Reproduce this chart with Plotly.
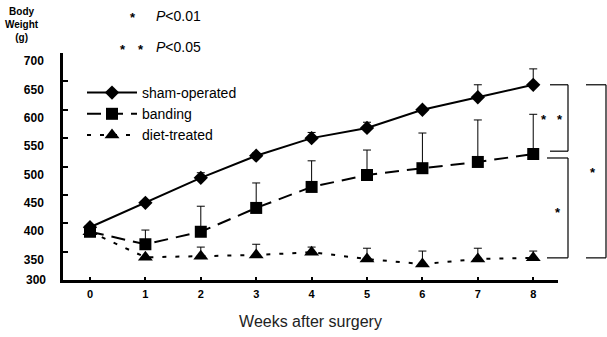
import plotly.graph_objects as go

weeks = [0, 1, 2, 3, 4, 5, 6, 7, 8]
sham = [393, 436, 480, 519, 550, 568, 600, 622, 644]
sham_err = [4, 4, 9, 5, 10, 10, 4, 22, 28]
banding = [385, 363, 385, 427, 464, 485, 497, 508, 522]
banding_err = [0, 25, 45, 44, 46, 44, 62, 74, 70]
diet = [385, 340, 342, 344, 349, 337, 328, 337, 339]
diet_err = [0, 0, 16, 19, 9, 19, 23, 19, 12]
y_ticks = [300, 350, 400, 450, 500, 550, 600, 650, 700]
series_names = ["sham-operated", "banding", "diet-treated"]

FONT = "Arial, Liberation Sans, sans-serif"

def eb(vals):
    return dict(type="data", symmetric=False, array=vals, arrayminus=[0] * len(vals),
                color="black", thickness=1, width=4)

fig = go.Figure()
fig.add_trace(go.Scatter(x=weeks, y=sham, name=series_names[0], mode="lines+markers",
                         line=dict(color="black", width=2),
                         marker=dict(symbol="diamond", size=11, color="black"),
                         error_y=eb(sham_err)))
fig.add_trace(go.Scatter(x=weeks, y=banding, name=series_names[1], mode="lines+markers",
                         line=dict(color="black", width=2, dash="14px,8px"),
                         marker=dict(symbol="square", size=12, color="black"),
                         error_y=eb(banding_err)))
fig.add_trace(go.Scatter(x=weeks, y=diet, name=series_names[2], mode="lines+markers",
                         line=dict(color="black", width=2, dash="4px,9px"),
                         marker=dict(symbol="triangle-up", size=13, color="black"),
                         error_y=eb(diet_err)))

L, R, T, B = 63, 49, 53, 57
W, H = 607, 337
pw, ph = W - L - R, H - T - B

def px(x):
    return (x - L) / pw

def py(y):
    return (H - B - y) / ph

def bracket(x0, x1, ytop, ybot):
    for (xa, ya, xb, yb) in [(x0, ytop, x1, ytop), (x1, ytop, x1, ybot), (x1, ybot, x0, ybot)]:
        fig.add_shape(type="line", xref="paper", yref="y", x0=xa, x1=xb, y0=ya, y1=yb,
                      line=dict(color="black", width=1.2))

bracket(px(550), px(568), sham[-1], banding[-1] + 5)
bracket(px(547), px(568), banding[-1] - 7, diet[-1])
bracket(px(586), px(606), sham[-1], diet[-1])

def star(xpix, ypix):
    fig.add_annotation(x=px(xpix), y=py(ypix), xref="paper", yref="paper", text="<b>*</b>",
                       xanchor="center", yanchor="middle", showarrow=False,
                       font=dict(family=FONT, size=13, color="black"))

def label(xpix, ypix, text):
    fig.add_annotation(x=px(xpix), y=py(ypix), xref="paper", yref="paper", text=text,
                       xanchor="left", yanchor="middle", showarrow=False,
                       font=dict(family=FONT, size=14, color="black"))

# significance markers on the right
star(544, 120)
star(560, 120)
star(558, 212)
star(593, 172)

# header legend for significance
star(133, 18)
label(154, 16, "<i>P</i>&lt;0.01")
star(123, 49)
star(141, 49)
label(154, 47, "<i>P</i>&lt;0.05")

fig.add_annotation(x=px(22), y=py(25), xref="paper", yref="paper",
                   xanchor="center", yanchor="middle",
                   text="<b>Body<br>Weight<br>(g)</b>", showarrow=False, align="center",
                   font=dict(family=FONT, size=10, color="black"))

# lowest y tick label sits at the axis line in the reference
fig.add_annotation(x=px(48), y=py(280), xref="paper", yref="paper",
                   xanchor="right", yanchor="middle", text=f"<b>{y_ticks[0]}</b>",
                   showarrow=False, font=dict(family=FONT, size=12, color="black"))

fig.update_layout(
    width=W, height=H,
    margin=dict(l=L, r=R, t=T, b=B, autoexpand=False),
    paper_bgcolor="white", plot_bgcolor="white",
    font=dict(family=FONT, color="black"),
    showlegend=True,
    legend=dict(x=px(82), y=py(77), xanchor="left", yanchor="top",
                bgcolor="rgba(0,0,0,0)", font=dict(family=FONT, size=14, color="black"),
                itemwidth=50, tracegroupgap=0),
    xaxis=dict(range=[-0.487, 8.447], tickmode="array", tickvals=weeks,
               ticktext=[f"<b>{w}</b>" for w in weeks], automargin=False,
               showgrid=False, zeroline=False, showline=True, linecolor="black", linewidth=2.5,
               ticks="inside", ticklen=3, tickwidth=2, tickcolor="black",
               tickfont=dict(family=FONT, size=11), ticklabelstandoff=2,
               title=dict(text="Weeks after surgery", font=dict(family=FONT, size=16, color="#222"),
                          standoff=17)),
    yaxis=dict(range=[300, 700], tickmode="array", tickvals=y_ticks[1:],
               ticktext=[f"<b>{t}</b>" for t in y_ticks[1:]], automargin=False,
               showgrid=False, zeroline=False, showline=True, linecolor="black", linewidth=2.5,
               ticks="inside", ticklen=5, tickwidth=1.5, tickcolor="black",
               tickfont=dict(family=FONT, size=12), ticklabelstandoff=14, ticklabelshift=8),
)

fig.write_html("out.html", config={"displayModeBar": False},
               post_script="document.body.style.margin='0';document.body.style.overflow='hidden';")
